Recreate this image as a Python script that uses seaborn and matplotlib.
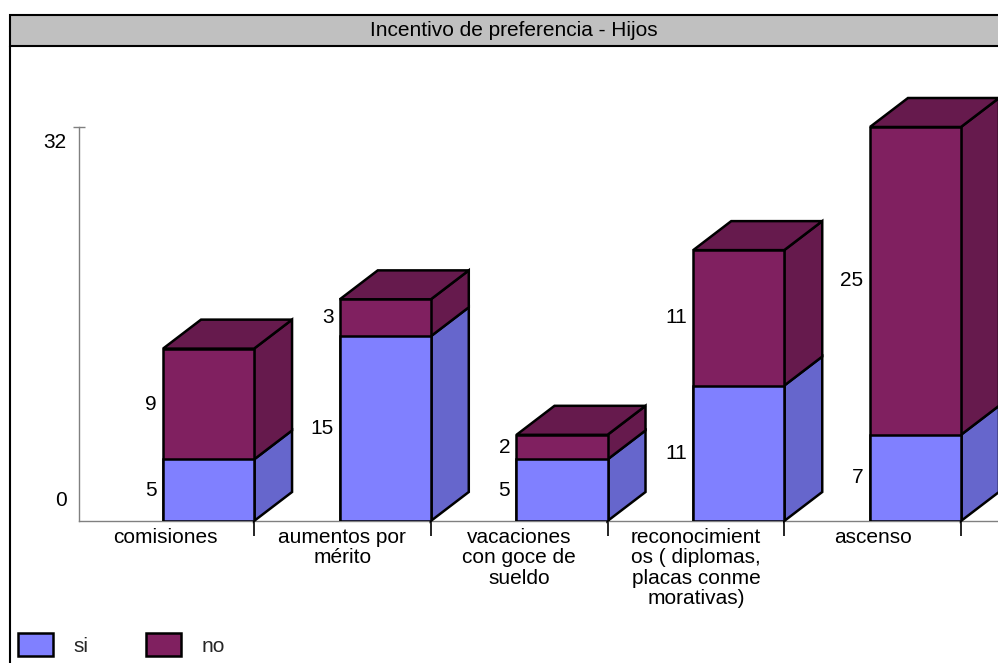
import matplotlib
matplotlib.use("Agg")
import matplotlib.pyplot as plt
import pandas as pd
import seaborn as sns
from matplotlib.patches import Polygon, Rectangle, Patch
from matplotlib.lines import Line2D
from matplotlib.transforms import ScaledTranslation

# --- data -------------------------------------------------------------
titulo = "Incentivo de preferencia - Hijos"
categorias = [
    "comisiones",
    "aumentos por\nmérito",
    "vacaciones\ncon goce de\nsueldo",
    "reconocimient\nos ( diplomas,\nplacas conme\nmorativas)",
    "ascenso",
]
si = [5, 15, 5, 11, 7]
no = [9, 3, 2, 11, 25]
series = ["si", "no"]
y_ticks = [0, 32]

# --- style ------------------------------------------------------------
sns.set_theme(style="white")
plt.rcParams["font.family"] = ["Liberation Sans", "DejaVu Sans"]
FS = 15

C_SI = "#8080FF"
C_SI_SIDE = "#6666CC"
C_NO = "#802060"
C_NO_SIDE = "#661A4D"
C_NO_TOP = "#661A4D"
EDGE = "black"
LW = 1.8
AXIS_GREY = "#808080"

W, H = 998, 663
fig = plt.figure(figsize=(W / 100, H / 100), dpi=100)
fig.patch.set_facecolor("white")

# plot area: value axis from 0 to 32
ax = fig.add_axes([79 / W, (H - 521) / H, (W - 79) / W, 394 / H])
ax.set_facecolor("none")

df = pd.DataFrame({"categoria": categorias, "si": si, "no": no})
df["total"] = df["si"] + df["no"]

bw = 0.515
# front faces: full stack in "no" colour, then the "si" part over it
sns.barplot(data=df, x="categoria", y="total", color=C_NO, width=bw,
            saturation=1, edgecolor=EDGE, linewidth=LW, errorbar=None,
            ax=ax, zorder=3)
sns.barplot(data=df, x="categoria", y="si", color=C_SI, width=bw,
            saturation=1, edgecolor=EDGE, linewidth=LW, errorbar=None,
            ax=ax, zorder=3)

xmin, xmax = -0.733, 4.467
ymax = 32
ax.set_xlim(xmin, xmax)
ax.set_ylim(0, ymax)

# depth of the extruded boxes, in data units
dx = 38 / 919 * (xmax - xmin)
dy = 29 / 394 * ymax


def face(pts, color):
    ax.add_patch(Polygon(pts, closed=True, facecolor=color, edgecolor=EDGE,
                         linewidth=LW, joinstyle="miter", zorder=2,
                         clip_on=False))


for i, row in df.iterrows():
    s, t = row["si"], row["total"]
    x0, x1 = i - bw / 2, i + bw / 2
    face([(x1, 0), (x1 + dx, dy), (x1 + dx, s + dy), (x1, s)], C_SI_SIDE)
    face([(x1, s), (x1 + dx, s + dy), (x1 + dx, t + dy), (x1, t)], C_NO_SIDE)
    face([(x0, t), (x0 + dx, t + dy), (x1 + dx, t + dy), (x1, t)], C_NO_TOP)
    # value labels, left of each segment
    lx = x0 - 0.036
    ax.text(lx, s / 2, f"{row['si']}", ha="right", va="center",
            fontsize=FS, color="black")
    ax.text(lx, s + row["no"] / 2, f"{row['no']}", ha="right", va="center",
            fontsize=FS, color="black")

# axes lines
for side in ("top", "right"):
    ax.spines[side].set_visible(False)
for side in ("left", "bottom"):
    ax.spines[side].set_color(AXIS_GREY)
    ax.spines[side].set_linewidth(1)
    ax.spines[side].set_zorder(1)
ax.set_xlabel("")
ax.set_ylabel("")

# category labels centred between the separator ticks
n = len(categorias)
ax.set_xticks([i - 0.5 + bw / 2 for i in range(n)], labels=categorias)
ax.set_xticks([i + bw / 2 for i in range(n)], minor=True)
ax.tick_params(axis="x", which="major", length=0, pad=5, labelsize=FS,
               labelcolor="black")
ax.tick_params(axis="x", which="minor", length=11, width=1.2,
               color="black", direction="out", bottom=True)
for lab in ax.get_xticklabels():
    lab.set_linespacing(1.1)

ax.set_yticks(y_ticks, labels=[str(v) for v in y_ticks])
ax.tick_params(axis="y", length=8, width=1, direction="inout",
               color=AXIS_GREY, pad=5, labelsize=FS, labelcolor="black",
               left=True)
# only the top of the value axis carries a tick mark
ax.yaxis.get_major_ticks()[0].tick1line.set_visible(False)
shifts = {"0": 23, "32": -13}
for lab in ax.get_yticklabels():
    off = shifts.get(lab.get_text(), 0) / 100
    lab.set_transform(lab.get_transform()
                      + ScaledTranslation(0, off, fig.dpi_scale_trans))

# title bar and outer frame
fig.patches.append(Rectangle((10 / W, (H - 46) / H), 1.2, 31 / H,
                             transform=fig.transFigure, facecolor="#C0C0C0",
                             edgecolor="black", linewidth=1.5, zorder=0))
fig.lines.append(Line2D([10 / W, 10 / W], [0, (H - 46) / H],
                        transform=fig.transFigure, color="black",
                        linewidth=1.5))
fig.text(514 / W, (H - 31) / H, titulo, ha="center", va="center",
         fontsize=FS, color="black")

# legend
handles = [Patch(facecolor=C_SI, edgecolor=EDGE, linewidth=LW),
           Patch(facecolor=C_NO, edgecolor=EDGE, linewidth=LW)]
fig.legend(handles, series, loc="lower left",
           bbox_to_anchor=(18 / W, 7 / H), ncol=2, frameon=False,
           fontsize=FS, handlelength=1.68, handleheight=1.3,
           handletextpad=1.0, columnspacing=2.74, borderpad=0,
           borderaxespad=0)

fig.savefig("out.png", dpi=100)
